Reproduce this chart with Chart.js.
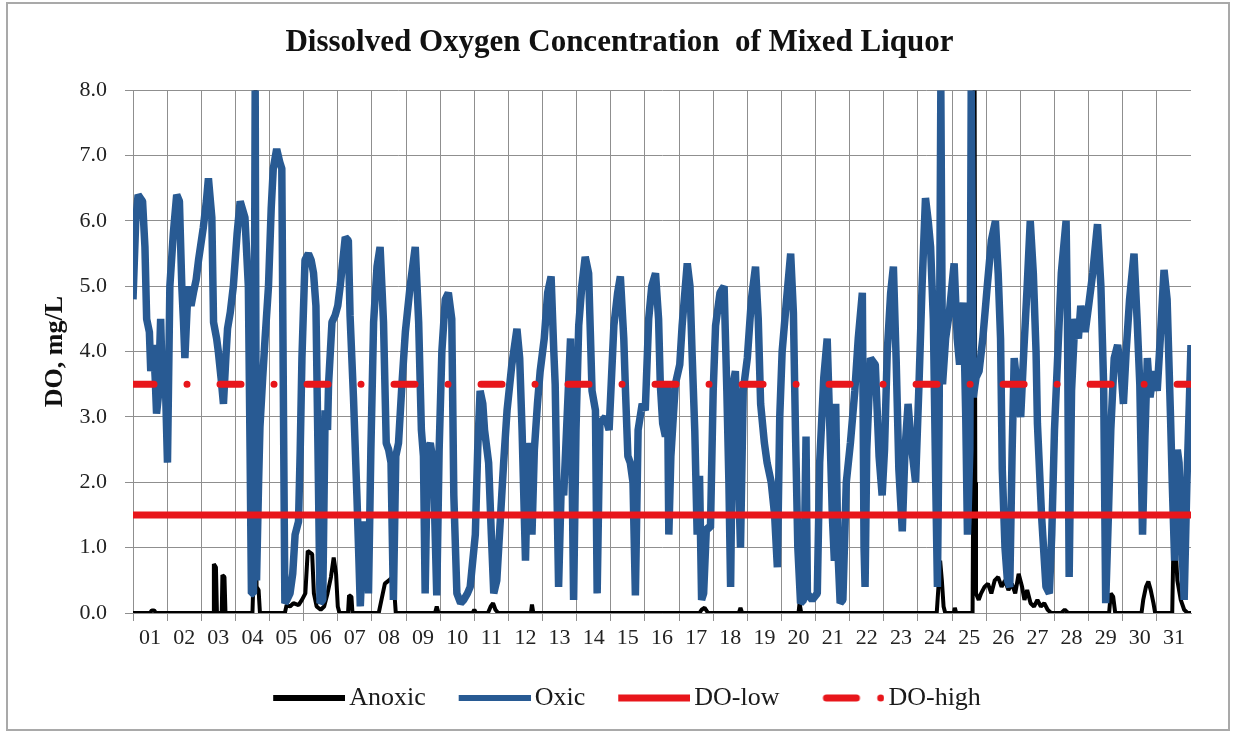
<!DOCTYPE html>
<html><head><meta charset="utf-8">
<script src="https://cdn.jsdelivr.net/npm/chart.js@4/dist/chart.umd.min.js"></script>
<style>
html,body{margin:0;padding:0;background:#fff;}
#wrap{position:relative;width:1236px;height:733px;overflow:hidden;}
#frame{position:absolute;left:6px;top:2px;width:1220px;height:725px;border:2px solid #a9a9a9;pointer-events:none;}
canvas{position:absolute;left:0;top:0;}
</style></head><body>
<div id="wrap"><canvas id="c" width="1236" height="733"></canvas><div id="frame"></div></div>
<script>
// ---- data ----
const dayLabels = ['01','02','03','04','05','06','07','08','09','10','11','12','13','14','15','16','17','18','19','20','21','22','23','24','25','26','27','28','29','30','31'];
const dayBounds = [0,1,2,3,4,5,6,7,8,9,10,11,12,13,14,15,16,17,18,19,20,21,22,23,24,25,26,27,28,29,30,31];
const yTicks = [0,1,2,3,4,5,6,7,8];
const doLowLevel = 1.5;
const doHighLevel = 3.5;
// [day position, DO mg/L]
const oxic = [
[0.00,4.8],[0.08,6.0],[0.15,6.4],[0.28,6.3],[0.35,5.6],[0.40,4.5],[0.48,4.3],[0.52,3.7],[0.60,4.1],[0.65,3.6],[0.69,3.05],[0.74,3.3],[0.81,4.5],[0.86,3.5],[0.93,3.9],[1.01,2.3],
[1.08,5.0],[1.18,5.8],[1.28,6.4],[1.36,6.3],[1.43,5.0],[1.48,4.45],[1.52,3.9],[1.58,4.6],[1.62,5.0],[1.70,4.7],[1.77,4.9],[1.85,5.1],[1.92,5.4],
[2.06,5.9],[2.15,6.3],[2.21,6.65],[2.31,6.05],[2.36,4.45],[2.45,4.2],[2.50,4.0],[2.58,3.6],[2.65,3.2],[2.72,3.9],[2.77,4.35],[2.85,4.6],[2.94,5.0],
[3.05,5.8],[3.14,6.3],[3.28,6.05],[3.38,5.0],[3.43,2.5],[3.47,0.3],[3.53,0.3],[3.58,8.0],[3.62,0.5],[3.68,2.0],[3.72,2.85],[3.80,3.6],[3.87,4.2],[3.97,5.0],
[4.05,6.2],[4.11,6.8],[4.21,7.1],[4.30,6.9],[4.36,6.8],[4.41,3.0],[4.45,0.15],[4.51,0.2],[4.60,0.3],[4.68,0.6],[4.75,1.2],[4.85,1.4],[4.90,2.5],[4.95,3.9],
[5.04,5.4],[5.14,5.5],[5.22,5.4],[5.29,5.2],[5.36,4.7],[5.42,2.5],[5.48,0.15],[5.56,0.2],[5.63,3.1],[5.70,2.8],[5.73,3.5],[5.83,4.45],[5.92,4.55],
[6.00,4.7],[6.07,5.0],[6.15,5.4],[6.22,5.75],[6.31,5.7],[6.36,4.55],[6.46,3.3],[6.56,1.8],[6.62,0.8],[6.66,0.1],[6.72,0.9],[6.80,1.4],[6.86,1.1],[6.90,0.3],[6.97,2.5],
[7.05,4.45],[7.15,5.3],[7.24,5.6],[7.34,4.45],[7.42,2.6],[7.49,2.5],[7.56,2.3],[7.63,0.2],[7.70,2.4],[7.78,2.6],[7.88,3.5],[7.98,4.3],
[8.12,5.0],[8.27,5.6],[8.37,4.45],[8.45,2.8],[8.51,2.4],[8.56,0.3],[8.63,2.5],[8.71,2.6],[8.80,2.3],[8.90,0.27],[8.97,2.5],
[9.05,4.0],[9.15,4.8],[9.24,4.9],[9.34,4.5],[9.40,1.8],[9.49,0.3],[9.60,0.15],[9.69,0.2],[9.80,0.3],[9.88,0.4],
[10.03,1.2],[10.10,2.5],[10.17,3.4],[10.25,3.2],[10.30,2.8],[10.42,2.3],[10.50,1.2],[10.57,0.3],[10.66,0.5],[10.76,1.4],[10.86,2.3],[10.96,3.1],
[11.10,3.8],[11.25,4.35],[11.33,3.9],[11.40,2.8],[11.50,0.8],[11.58,2.6],[11.64,2.4],[11.69,1.2],[11.76,2.5],[11.85,3.2],[11.93,3.7],
[12.05,4.2],[12.15,4.9],[12.25,5.15],[12.33,4.0],[12.37,3.5],[12.47,0.4],[12.55,2.0],[12.62,1.8],[12.72,3.0],[12.82,4.2],[12.91,0.2],[12.98,2.8],
[13.06,4.4],[13.15,5.0],[13.25,5.45],[13.35,5.2],[13.45,3.4],[13.55,3.1],[13.60,0.3],[13.68,2.9],[13.84,3.0],[13.95,2.8],
[14.09,4.4],[14.20,4.9],[14.28,5.15],[14.38,4.2],[14.43,3.4],[14.50,2.4],[14.57,2.3],[14.65,2.0],[14.72,0.27],[14.80,2.8],[14.92,3.2],
[15.01,3.1],[15.11,4.5],[15.20,5.0],[15.31,5.2],[15.40,4.5],[15.45,3.5],[15.52,2.9],[15.60,2.7],[15.66,3.5],[15.70,1.2],[15.76,2.4],[15.89,3.5],
[16.02,3.8],[16.09,4.4],[16.24,5.35],[16.32,5.0],[16.38,4.0],[16.46,2.8],[16.53,1.2],[16.60,2.1],[16.66,0.2],[16.72,0.3],[16.80,1.3],[16.92,1.3],
[17.00,3.4],[17.07,4.4],[17.20,4.9],[17.32,5.0],[17.40,3.4],[17.46,2.0],[17.51,0.4],[17.58,3.5],[17.65,3.7],[17.72,2.5],[17.80,1.0],[17.88,3.4],
[18.00,3.9],[18.12,4.8],[18.24,5.3],[18.32,4.5],[18.39,3.2],[18.50,2.6],[18.58,2.3],[18.70,2.0],[18.80,1.5],[18.88,0.7],[18.95,3.0],
[19.02,4.0],[19.15,4.8],[19.27,5.5],[19.35,4.6],[19.41,2.8],[19.48,1.0],[19.56,0.15],[19.65,0.2],[19.72,2.7],[19.76,0.3],[19.90,0.2],
[20.05,0.3],[20.12,2.3],[20.24,3.6],[20.34,4.2],[20.42,2.8],[20.49,1.5],[20.55,0.8],[20.59,3.2],[20.65,1.0],[20.72,0.15],[20.80,0.2],[20.90,2.0],
[21.02,2.6],[21.15,3.4],[21.25,4.2],[21.37,4.9],[21.42,1.0],[21.45,0.4],[21.50,2.5],[21.61,3.9],[21.75,3.8],[21.86,2.4],[21.95,1.8],
[22.02,2.5],[22.10,4.0],[22.20,4.9],[22.28,5.3],[22.36,3.9],[22.44,2.2],[22.54,1.25],[22.62,2.5],[22.71,3.2],[22.80,2.6],[22.93,2.0],
[23.03,3.5],[23.12,5.0],[23.22,6.35],[23.30,6.0],[23.37,5.6],[23.45,4.5],[23.52,2.0],[23.57,0.4],[23.62,3.0],[23.67,8.0],[23.72,3.5],[23.81,4.2],[23.92,4.6],
[24.06,5.35],[24.15,4.2],[24.22,3.8],[24.33,4.75],[24.40,3.0],[24.45,1.2],[24.52,2.5],[24.56,8.0],[24.62,3.3],[24.70,3.6],[24.79,3.7],[24.90,4.2],
[25.03,5.0],[25.15,5.7],[25.27,6.0],[25.35,5.2],[25.42,4.2],[25.47,2.2],[25.55,1.0],[25.62,0.5],[25.69,0.4],[25.76,2.5],[25.82,3.9],[25.90,3.5],
[26.01,3.0],[26.10,4.0],[26.20,5.0],[26.29,6.0],[26.38,5.2],[26.46,4.0],[26.50,2.9],[26.62,1.5],[26.75,0.4],[26.85,0.3],[26.92,1.2],
[27.00,2.8],[27.10,4.0],[27.20,5.2],[27.34,6.0],[27.38,4.5],[27.43,0.55],[27.50,3.4],[27.60,4.5],[27.70,4.2],[27.77,4.7],[27.90,4.3],
[28.00,4.7],[28.12,5.2],[28.26,5.95],[28.36,5.0],[28.44,3.5],[28.50,0.15],[28.58,1.5],[28.65,2.8],[28.75,3.9],[28.85,4.1],[28.95,3.7],
[29.02,3.2],[29.10,4.0],[29.20,4.8],[29.33,5.5],[29.42,4.5],[29.50,3.5],[29.58,1.2],[29.65,2.7],[29.72,3.9],[29.80,3.3],[29.90,3.7],
[30.01,3.4],[30.10,4.2],[30.21,5.25],[30.30,4.8],[30.40,3.0],[30.45,2.0],[30.52,0.8],[30.60,2.5],[30.65,2.3],[30.72,1.2],[30.80,0.2],[30.88,2.0],[30.95,3.2],[31.00,4.1]
];
const anoxic = [
[0,0],[0.5,0],[0.55,0.04],[0.62,0.04],[0.67,0],
[2.35,0],[2.37,0.75],[2.43,0.7],[2.46,0],
[2.6,0],[2.62,0.58],[2.68,0.55],[2.71,0],
[3.5,0],[3.54,0.7],[3.59,8.0],[3.62,0.4],[3.68,0.35],[3.72,0],
[4.45,0],[4.5,0.12],[4.6,0.1],[4.7,0.15],[4.85,0.12],[4.95,0.2],[5.05,0.3],[5.12,0.95],[5.25,0.9],[5.3,0.3],[5.38,0.1],[5.5,0.05],
[5.6,0.1],[5.7,0.3],[5.8,0.55],[5.88,0.85],[5.95,0.6],[6.0,0.1],[6.05,0],
[6.3,0],[6.33,0.27],[6.4,0.25],[6.43,0],
[7.2,0],[7.28,0.2],[7.38,0.45],[7.5,0.5],[7.6,0.55],[7.66,0.3],[7.7,0],
[8.85,0],[8.9,0.1],[8.95,0],
[9.95,0],[10.0,0.05],[10.05,0],
[10.4,0],[10.48,0.1],[10.55,0.15],[10.62,0.05],[10.7,0],
[11.66,0],[11.69,0.13],[11.73,0],
[16.6,0],[16.66,0.05],[16.75,0.08],[16.85,0],
[17.75,0],[17.8,0.08],[17.85,0],
[19.5,0],[19.53,0.15],[19.58,0],
[23.55,0],[23.6,0.4],[23.65,0.8],[23.7,0.5],[23.75,0.1],[23.8,0],
[24.05,0],[24.08,0.08],[24.12,0],
[24.6,0],[24.62,2.0],[24.66,8.0],[24.68,2.0],[24.7,0.3],[24.78,0.2],[24.85,0.3],[24.95,0.4],[25.05,0.45],[25.15,0.3],[25.25,0.5],[25.35,0.55],[25.45,0.4],[25.55,0.5],[25.65,0.35],[25.75,0.45],[25.85,0.3],[25.95,0.6],[26.05,0.4],[26.12,0.2],[26.2,0.35],[26.3,0.15],[26.4,0.1],[26.5,0.2],[26.6,0.1],[26.7,0.15],[26.8,0.05],[26.9,0],
[27.2,0],[27.3,0.05],[27.4,0],
[28.6,0],[28.65,0.3],[28.72,0.25],[28.78,0],
[29.55,0],[29.6,0.2],[29.68,0.4],[29.75,0.48],[29.82,0.35],[29.9,0.15],[29.95,0],
[30.45,0],[30.48,0.9],[30.55,1.0],[30.6,0.5],[30.7,0.2],[30.8,0.05],[30.9,0],[31.0,0]
];

// ---- styling ----
const SERIF = '"Liberation Serif","Times New Roman",serif';
const BLUE = '#285A93', RED = '#E8161B', BLACK = '#000000', GRID = '#8f8f8f';

function sample(kind) {
  const c = document.createElement('canvas');
  c.width = 78; c.height = 10;
  const g = c.getContext('2d');
  if (kind === 'dashdot') {
    g.strokeStyle = RED; g.lineWidth = 7; g.lineCap = 'round';
    g.beginPath(); g.moveTo(20, 5); g.lineTo(50, 5); g.stroke();
    g.fillStyle = RED; g.beginPath(); g.arc(74.3, 5, 3.5, 0, Math.PI * 2); g.fill();
  } else {
    const col = kind === 'black' ? BLACK : kind === 'blue' ? BLUE : RED;
    const th = kind === 'red' ? 7 : 6;
    g.fillStyle = col; g.fillRect(6, 5 - th / 2, 72, th);
  }
  return c;
}
const samples = [sample('black'), sample('blue'), sample('red'), sample('dashdot')];

const bg = { id: 'bg', beforeDraw(ch) { const x = ch.ctx; x.save(); x.fillStyle = '#fff'; x.fillRect(0, 0, ch.width, ch.height); x.restore(); } };
const boxShift = { id: 'boxShift', afterLayout(ch) {
  if (ch.legend) { ch.legend.left += 29; ch.legend.right += 29; }
  if (ch.titleBlock) { ch.titleBlock.left += 20; ch.titleBlock.right += 20; }
} };

new Chart(document.getElementById('c'), {
  type: 'line',
  data: {
    datasets: [
      { label: 'Anoxic', data: anoxic.map(([t, v]) => ({ x: t, y: v })), borderColor: BLACK, backgroundColor: BLACK, borderWidth: 4, order: 4 },
      { label: 'Oxic', data: oxic.map(([t, v]) => ({ x: t, y: v })), borderColor: BLUE, backgroundColor: BLUE, borderWidth: 7.5, order: 3 },
      { label: 'DO-low', data: [{ x: dayBounds[0], y: doLowLevel }, { x: dayBounds[dayBounds.length - 1], y: doLowLevel }], borderColor: RED, backgroundColor: RED, borderWidth: 7, order: 1 },
      { label: 'DO-high', data: [{ x: dayBounds[0], y: doHighLevel }, { x: dayBounds[dayBounds.length - 1], y: doHighLevel }], borderColor: RED, backgroundColor: RED, borderWidth: 7, borderDash: [21, 33, 0.01, 33], borderCapStyle: 'round', order: 0 }
    ]
  },
  options: {
    responsive: false, animation: false, events: [],
    layout: { padding: { left: 8, right: 45, top: 0, bottom: 12 } },
    elements: { point: { radius: 0 }, line: { tension: 0, borderJoinStyle: 'bevel', fill: false } },
    scales: {
      x: {
        type: 'linear', min: 0, max: 31, position: 'bottom',
        afterBuildTicks: s => { s.ticks = dayBounds.map(v => ({ value: v })); },
        afterFit: s => { s.height = 8; },
        grid: { color: c => (c.tick && c.tick.value === 31) ? 'rgba(0,0,0,0)' : GRID, lineWidth: 1, tickLength: 8 },
        border: { color: GRID, width: 1 },
        ticks: { display: false }
      },
      xc: {
        type: 'category', labels: dayLabels, offset: true, position: 'bottom', weight: 1,
        afterFit: s => { s.height = 28; },
        grid: { display: false, drawTicks: false }, border: { display: false },
        ticks: { font: { family: SERIF, size: 22 }, color: '#222', autoSkip: false, maxRotation: 0, minRotation: 0, padding: 4 }
      },
      y: {
        type: 'linear', min: 0, max: 8, position: 'left',
        afterBuildTicks: s => { s.ticks = yTicks.map(v => ({ value: v })); },
        afterFit: s => { s.width = 125; },
        grid: { color: GRID, lineWidth: 1, tickLength: 8 },
        border: { color: GRID, width: 1 },
        ticks: { font: { family: SERIF, size: 22 }, color: '#222', padding: 18, callback: v => Number(v).toFixed(1) },
        title: { display: true, text: 'DO, mg/L', font: { family: SERIF, size: 26, weight: 'bold' }, color: '#111', padding: { top: 32, bottom: 0 } }
      }
    },
    plugins: {
      tooltip: { enabled: false },
      title: { display: true, text: 'Dissolved Oxygen Concentration  of Mixed Liquor', font: { family: SERIF, size: 31, weight: 'bold' }, color: '#111', padding: { top: 24, bottom: 29 } },
      legend: {
        position: 'bottom',
        labels: {
          usePointStyle: true, pointStyleWidth: 60, boxHeight: 8, padding: 36,
          font: { family: SERIF, size: 26 }, color: '#1a1a1a',
          sort: (a, b) => a.datasetIndex - b.datasetIndex,
          generateLabels: ch => {
            const items = Chart.defaults.plugins.legend.labels.generateLabels(ch);
            items.forEach(it => { it.pointStyle = samples[it.datasetIndex]; it.fontColor = '#1a1a1a'; });
            return items;
          }
        }
      }
    }
  },
  plugins: [bg, boxShift]
});
</script>
</body></html>
